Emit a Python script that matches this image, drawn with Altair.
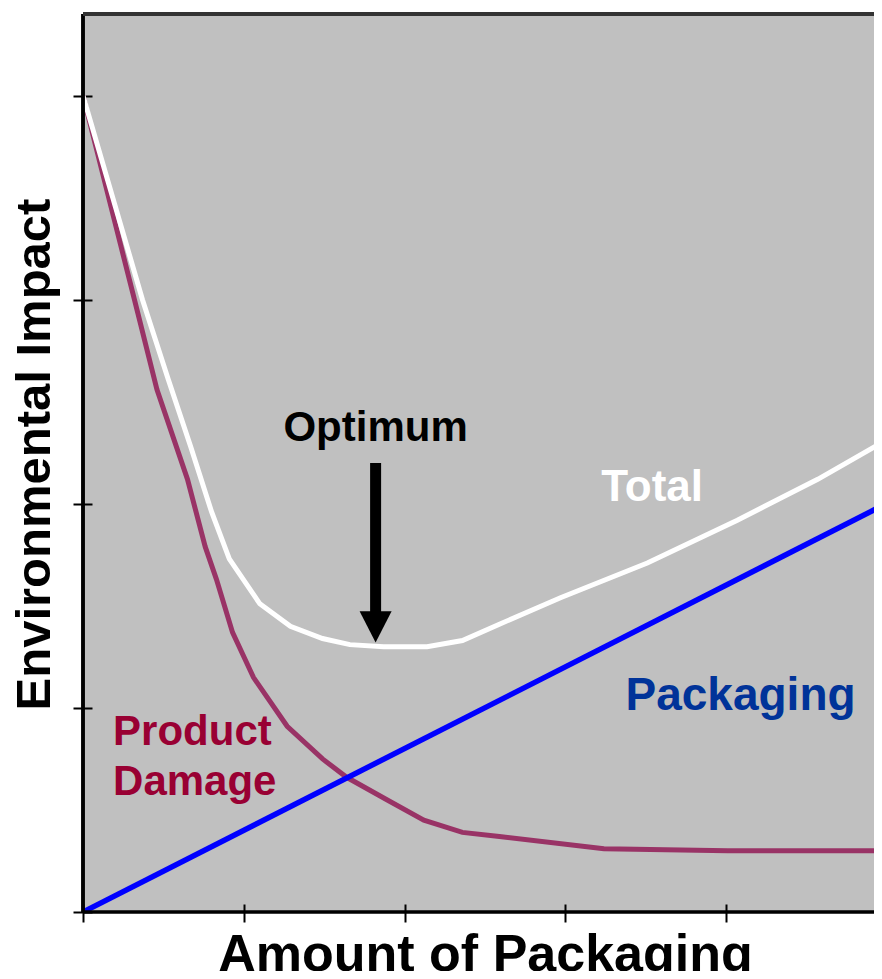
import altair as alt
import pandas as pd

# ---- data ----
x_damage = [0, 0.32, 0.46, 0.65, 0.76, 0.83, 0.93, 1.06, 1.27, 1.49, 1.64, 1.89, 2.12, 2.36, 2.59, 3.24, 4.01, 4.97]
y_damage = [4.0, 3.0, 2.56, 2.12, 1.79, 1.63, 1.37, 1.15, 0.91, 0.75, 0.66, 0.55, 0.45, 0.39, 0.37, 0.31, 0.30, 0.30]

x_total = [0, 0.37, 0.53, 0.67, 0.80, 0.91, 1.10, 1.29, 1.49, 1.66, 1.87, 2.14, 2.36, 2.59, 2.97, 3.51, 4.07, 4.57, 4.97]
y_total = [4.0, 3.0, 2.61, 2.28, 1.96, 1.73, 1.51, 1.40, 1.34, 1.31, 1.30, 1.30, 1.33, 1.41, 1.54, 1.71, 1.92, 2.12, 2.30]

x_packaging = [0, 4.97]
y_packaging = [0, 1.99]

tick_values = [0, 1, 2, 3, 4]

label_text = ["Optimum", "Total", "Packaging", "Product", "Damage"]
label_x = [1.82, 3.54, 4.09, 0.187, 0.187]
label_y = [2.31, 2.015, 0.99, 0.82, 0.574]

arrow_x = [1.82]
arrow_top = [2.20]
arrow_bottom = [1.46]
arrow_head_y = [1.395]

X_DOMAIN = [0, 4.92]
Y_DOMAIN = [0, 4.4]
FONT = "Liberation Sans"

xs = alt.Scale(domain=X_DOMAIN, nice=False, zero=False)
ys = alt.Scale(domain=Y_DOMAIN, nice=False, zero=False)

x_axis = alt.Axis(
    values=tick_values, labels=False, domain=False, grid=False,
    tickSize=18, tickWidth=2, tickColor="black", offset=-8,
    title="Amount of Packaging", titleFont=FONT, titleFontSize=52,
    titleFontWeight="bold", titleColor="black",
    titleX=402, titleY=66, titleBaseline="alphabetic", titleAlign="center",
)
y_axis = alt.Axis(
    values=tick_values, labels=False, domain=False, grid=False,
    tickSize=19, tickWidth=2, tickColor="black", offset=-9,
    title="Environmental Impact", titleFont=FONT, titleFontSize=49,
    titleFontWeight="bold", titleColor="black", titleAngle=270,
    titleX=-43, titleY=440, titleBaseline="alphabetic", titleAlign="center",
)

df_damage = pd.DataFrame({"x": x_damage, "y": y_damage})
df_total = pd.DataFrame({"x": x_total, "y": y_total})
df_pack = pd.DataFrame({"x": x_packaging, "y": y_packaging})
df_lab = pd.DataFrame({"x": label_x, "y": label_y, "t": label_text})
df_arrow = pd.DataFrame({"x": arrow_x, "y": arrow_top, "y2": arrow_bottom, "yh": arrow_head_y})

base_axes = alt.Chart(df_pack).mark_line(opacity=0, clip=True).encode(
    x=alt.X("x:Q", scale=xs, axis=x_axis),
    y=alt.Y("y:Q", scale=ys, axis=y_axis),
)

damage = alt.Chart(df_damage).mark_line(color="#993366", strokeWidth=5, clip=True).encode(
    x=alt.X("x:Q", scale=xs), y=alt.Y("y:Q", scale=ys)
)
total = alt.Chart(df_total).mark_line(color="white", strokeWidth=5, clip=True).encode(
    x=alt.X("x:Q", scale=xs), y=alt.Y("y:Q", scale=ys)
)
pack = alt.Chart(df_pack).mark_line(color="#0000FF", strokeWidth=5.5, clip=True).encode(
    x=alt.X("x:Q", scale=xs), y=alt.Y("y:Q", scale=ys)
)

shaft = alt.Chart(df_arrow).mark_rule(color="black", strokeWidth=11).encode(
    x=alt.X("x:Q", scale=xs), y=alt.Y("y:Q", scale=ys), y2="y2:Q"
)
head = alt.Chart(df_arrow).mark_point(
    shape="M -1 -1 L 1 -1 L 0 0.95 Z", size=1024, filled=True,
    color="black", opacity=1, strokeWidth=0,
).encode(x=alt.X("x:Q", scale=xs), y=alt.Y("yh:Q", scale=ys))

label_colors = alt.Scale(
    domain=label_text,
    range=["black", "white", "#003399", "#990033", "#990033"],
)

labels_center = alt.Chart(df_lab).transform_filter(
    (alt.datum.t != "Product") & (alt.datum.t != "Damage")
).mark_text(
    font=FONT, fontWeight="bold", fontSize=42, align="center", baseline="alphabetic"
).encode(
    x=alt.X("x:Q", scale=xs), y=alt.Y("y:Q", scale=ys), text="t:N",
    color=alt.Color("t:N", scale=label_colors, legend=None),
    size=alt.Size("t:N", scale=alt.Scale(domain=["Optimum", "Total", "Packaging"], range=[42, 46, 42]), legend=None),
)
labels_left = alt.Chart(df_lab).transform_filter(
    (alt.datum.t == "Product") | (alt.datum.t == "Damage")
).mark_text(
    font=FONT, fontWeight="bold", fontSize=42, align="left", baseline="alphabetic", color="#990033"
).encode(
    x=alt.X("x:Q", scale=xs), y=alt.Y("y:Q", scale=ys), text="t:N",
)

frame_bottom = alt.Chart(df_pack).mark_rule(color="black", strokeWidth=3).encode(
    y=alt.datum(0, scale=ys)
)
frame_left = alt.Chart(df_pack).mark_rule(color="black", strokeWidth=3.5).encode(
    x=alt.datum(0, scale=xs)
)
frame_top = alt.Chart(df_pack).mark_rule(color="#333333", strokeWidth=4).encode(
    y=alt.datum(4.4, scale=ys)
)

chart = alt.layer(
    base_axes, damage, total, pack, shaft, head, labels_center, labels_left,
    frame_bottom, frame_left, frame_top,
).resolve_scale(color="independent", size="independent").properties(
    width=791, height=898,
    autosize=alt.AutoSizeParams(type="none"),
    padding={"left": 75, "top": 6, "right": 0, "bottom": 59},
    background="white",
).configure_view(fill="#C0C0C0", stroke="transparent")

chart.save("out.html", embed_options={"renderer": "svg", "actions": False})
